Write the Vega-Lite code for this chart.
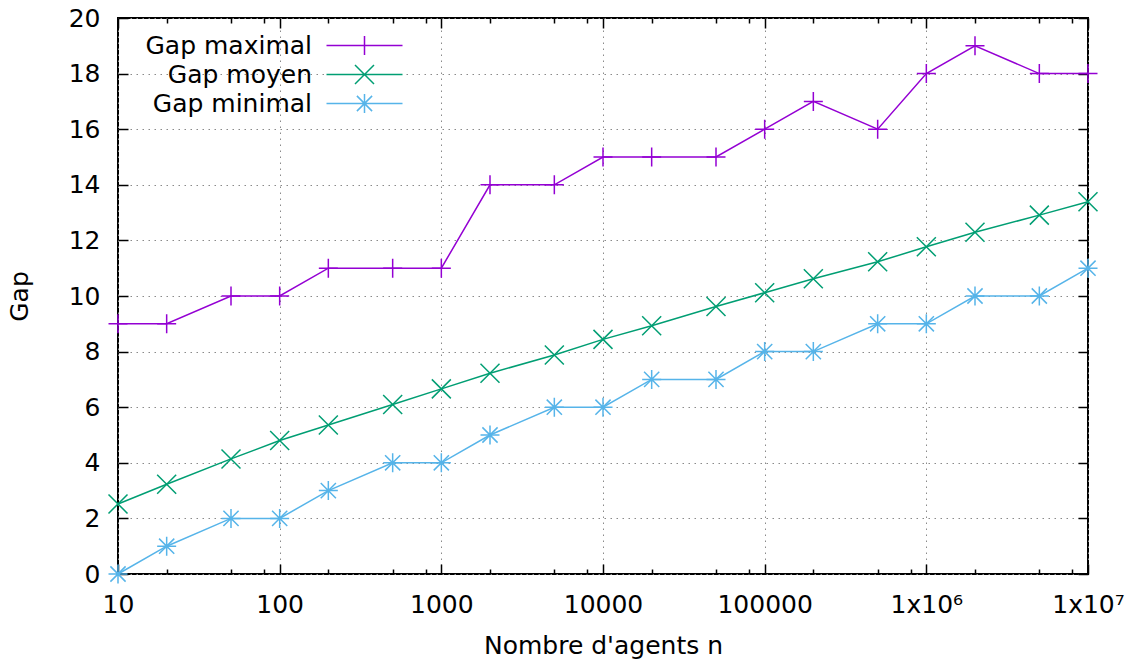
{
  "$schema": "https://vega.github.io/schema/vega-lite/v6.json",
  "width": 970,
  "height": 556,
  "autosize": "none",
  "padding": {"left": 118, "top": 18, "right": 50, "bottom": 89},
  "background": "white",
  "config": {
    "font": "DejaVu Sans",
    "view": {"stroke": "black", "strokeWidth": 2},
    "axis": {
      "grid": false,
      "domain": false,
      "tickColor": "black",
      "tickWidth": 1.5,
      "labelColor": "black",
      "titleColor": "black",
      "labelFontSize": 25,
      "titleFontSize": 25,
      "titleFontWeight": "normal",
      "labelFlush": false,
      "labelOverlap": false,
      "gridColor": "#8a8a8a",
      "gridDash": [1.5, 4.5],
      "gridWidth": 1,
      "gridOpacity": 1
    },
    "legend": {
      "orient": "none", "legendX": 20, "legendY": 15, "title": null,
      "labelAlign": "right", "labelOffset": -65, "symbolOffset": 214, "labelLimit": 400,
      "labelFontSize": 25, "labelColor": "black", "symbolSize": 361, "symbolStrokeWidth": 1.5,
      "rowPadding": 3, "padding": 0
    }
  },
  "data": {
    "values": [
      {"n": 10, "s": "Gap maximal", "gap": 9},
      {"n": 20, "s": "Gap maximal", "gap": 9},
      {"n": 50, "s": "Gap maximal", "gap": 10},
      {"n": 100, "s": "Gap maximal", "gap": 10},
      {"n": 200, "s": "Gap maximal", "gap": 11},
      {"n": 500, "s": "Gap maximal", "gap": 11},
      {"n": 1000, "s": "Gap maximal", "gap": 11},
      {"n": 2000, "s": "Gap maximal", "gap": 14},
      {"n": 5000, "s": "Gap maximal", "gap": 14},
      {"n": 10000, "s": "Gap maximal", "gap": 15},
      {"n": 20000, "s": "Gap maximal", "gap": 15},
      {"n": 50000, "s": "Gap maximal", "gap": 15},
      {"n": 100000, "s": "Gap maximal", "gap": 16},
      {"n": 200000, "s": "Gap maximal", "gap": 17},
      {"n": 500000, "s": "Gap maximal", "gap": 16},
      {"n": 1000000, "s": "Gap maximal", "gap": 18},
      {"n": 2000000, "s": "Gap maximal", "gap": 19},
      {"n": 5000000, "s": "Gap maximal", "gap": 18},
      {"n": 10000000, "s": "Gap maximal", "gap": 18},
      {"n": 10, "s": "Gap moyen", "gap": 2.52},
      {"n": 20, "s": "Gap moyen", "gap": 3.23},
      {"n": 50, "s": "Gap moyen", "gap": 4.14},
      {"n": 100, "s": "Gap moyen", "gap": 4.8},
      {"n": 200, "s": "Gap moyen", "gap": 5.36},
      {"n": 500, "s": "Gap moyen", "gap": 6.1},
      {"n": 1000, "s": "Gap moyen", "gap": 6.66},
      {"n": 2000, "s": "Gap moyen", "gap": 7.22},
      {"n": 5000, "s": "Gap moyen", "gap": 7.88},
      {"n": 10000, "s": "Gap moyen", "gap": 8.44},
      {"n": 20000, "s": "Gap moyen", "gap": 8.93},
      {"n": 50000, "s": "Gap moyen", "gap": 9.62},
      {"n": 100000, "s": "Gap moyen", "gap": 10.12},
      {"n": 200000, "s": "Gap moyen", "gap": 10.62},
      {"n": 500000, "s": "Gap moyen", "gap": 11.23},
      {"n": 1000000, "s": "Gap moyen", "gap": 11.77},
      {"n": 2000000, "s": "Gap moyen", "gap": 12.29},
      {"n": 5000000, "s": "Gap moyen", "gap": 12.91},
      {"n": 10000000, "s": "Gap moyen", "gap": 13.39},
      {"n": 10, "s": "Gap minimal", "gap": 0},
      {"n": 20, "s": "Gap minimal", "gap": 1},
      {"n": 50, "s": "Gap minimal", "gap": 2},
      {"n": 100, "s": "Gap minimal", "gap": 2},
      {"n": 200, "s": "Gap minimal", "gap": 3},
      {"n": 500, "s": "Gap minimal", "gap": 4},
      {"n": 1000, "s": "Gap minimal", "gap": 4},
      {"n": 2000, "s": "Gap minimal", "gap": 5},
      {"n": 5000, "s": "Gap minimal", "gap": 6},
      {"n": 10000, "s": "Gap minimal", "gap": 6},
      {"n": 20000, "s": "Gap minimal", "gap": 7},
      {"n": 50000, "s": "Gap minimal", "gap": 7},
      {"n": 100000, "s": "Gap minimal", "gap": 8},
      {"n": 200000, "s": "Gap minimal", "gap": 8},
      {"n": 500000, "s": "Gap minimal", "gap": 9},
      {"n": 1000000, "s": "Gap minimal", "gap": 9},
      {"n": 2000000, "s": "Gap minimal", "gap": 10},
      {"n": 5000000, "s": "Gap minimal", "gap": 10},
      {"n": 10000000, "s": "Gap minimal", "gap": 11}
    ]
  },
  "layer": [
    {
      "mark": {"type": "line", "strokeWidth": 1.5, "clip": false},
      "encoding": {
        "x": {
          "field": "n", "type": "quantitative",
          "scale": {"type": "log", "domain": [10, 10000000], "nice": false},
          "axis": {
            "orient": "bottom",
            "values": [10, 100, 1000, 10000, 100000, 1000000, 10000000],
            "grid": true,
            "tickSize": -10,
            "labelPadding": 28,
            "labelExpr": "datum.value == 1000000 ? '1x10⁶' : datum.value == 10000000 ? '1x10⁷' : format(datum.value, 'd')",
            "title": "Nombre d'agents n",
            "titlePadding": 16
          }
        },
        "y": {
          "field": "gap", "type": "quantitative",
          "scale": {"domain": [0, 20], "nice": false, "zero": false},
          "axis": {
            "orient": "left",
            "values": [0, 2, 4, 6, 8, 10, 12, 14, 16, 18, 20],
            "grid": true,
            "tickSize": -10,
            "labelPadding": 28,
            "title": "Gap",
            "titlePadding": 36
          }
        },
        "color": {
          "field": "s", "type": "nominal",
          "scale": {"domain": ["Gap maximal", "Gap moyen", "Gap minimal"], "range": ["#9400D3", "#009E73", "#56B4E9"]}
        }
      }
    },
    {
      "transform": [{"filter": "datum.s == 'Gap maximal'"}],
      "mark": {"type": "point", "shape": "M-1,0L1,0M0,-1L0,1", "size": 361, "filled": false, "strokeWidth": 1.5, "opacity": 1, "clip": false, "color": "#9400D3"},
      "encoding": {
        "x": {
          "field": "n", "type": "quantitative",
          "axis": {
            "orient": "bottom",
            "values": [20, 50, 80, 200, 500, 800, 2000, 5000, 8000, 20000, 50000, 80000, 200000, 500000, 800000, 2000000, 5000000, 8000000],
            "grid": false, "labels": false, "tickSize": -5, "title": null
          }
        },
        "y": {"field": "gap", "type": "quantitative", "axis": null}
      }
    },
    {
      "transform": [{"filter": "datum.s == 'Gap moyen'"}],
      "mark": {"type": "point", "shape": "M-1,-1L1,1M-1,1L1,-1", "size": 361, "filled": false, "strokeWidth": 1.5, "opacity": 1, "clip": false, "color": "#009E73"},
      "encoding": {
        "x": {
          "field": "n", "type": "quantitative",
          "axis": {
            "orient": "top",
            "values": [20, 50, 80, 200, 500, 800, 2000, 5000, 8000, 20000, 50000, 80000, 200000, 500000, 800000, 2000000, 5000000, 8000000],
            "grid": false, "labels": false, "tickSize": -5, "title": null
          }
        },
        "y": {"field": "gap", "type": "quantitative", "axis": null}
      }
    },
    {
      "transform": [{"filter": "datum.s == 'Gap minimal'"}],
      "mark": {"type": "point", "shape": "M-1,0L1,0M0,-1L0,1M-0.8,-0.8L0.8,0.8M-0.8,0.8L0.8,-0.8", "size": 361, "filled": false, "strokeWidth": 1.5, "opacity": 1, "clip": false, "color": "#56B4E9"},
      "encoding": {
        "x": {"field": "n", "type": "quantitative", "axis": null},
        "y": {"field": "gap", "type": "quantitative", "axis": null}
      }
    },
    {
      "transform": [{"filter": "false"}],
      "mark": {"type": "point", "size": 361, "filled": false, "strokeWidth": 1.5, "opacity": 1},
      "encoding": {
        "x": {
          "field": "n", "type": "quantitative",
          "axis": {
            "orient": "top",
            "values": [10, 100, 1000, 10000, 100000, 1000000, 10000000],
            "grid": false, "labels": false, "tickSize": -10, "title": null
          }
        },
        "y": {
          "field": "gap", "type": "quantitative",
          "axis": {
            "orient": "right",
            "values": [0, 2, 4, 6, 8, 10, 12, 14, 16, 18, 20],
            "grid": false, "labels": false, "tickSize": -10, "title": null
          }
        },
        "color": {
          "field": "s", "type": "nominal",
          "scale": {"domain": ["Gap maximal", "Gap moyen", "Gap minimal"], "range": ["#9400D3", "#009E73", "#56B4E9"]}
        },
        "shape": {
          "field": "s", "type": "nominal",
          "scale": {"domain": ["Gap maximal", "Gap moyen", "Gap minimal"], "range": ["M-4,0L4,0M0,-1L0,1", "M-4,0L4,0M-1,-1L1,1M-1,1L1,-1", "M-4,0L4,0M0,-1L0,1M-0.8,-0.8L0.8,0.8M-0.8,0.8L0.8,-0.8"]}
        }
      }
    }
  ],
  "resolve": {"axis": {"x": "independent", "y": "independent"}}
}
